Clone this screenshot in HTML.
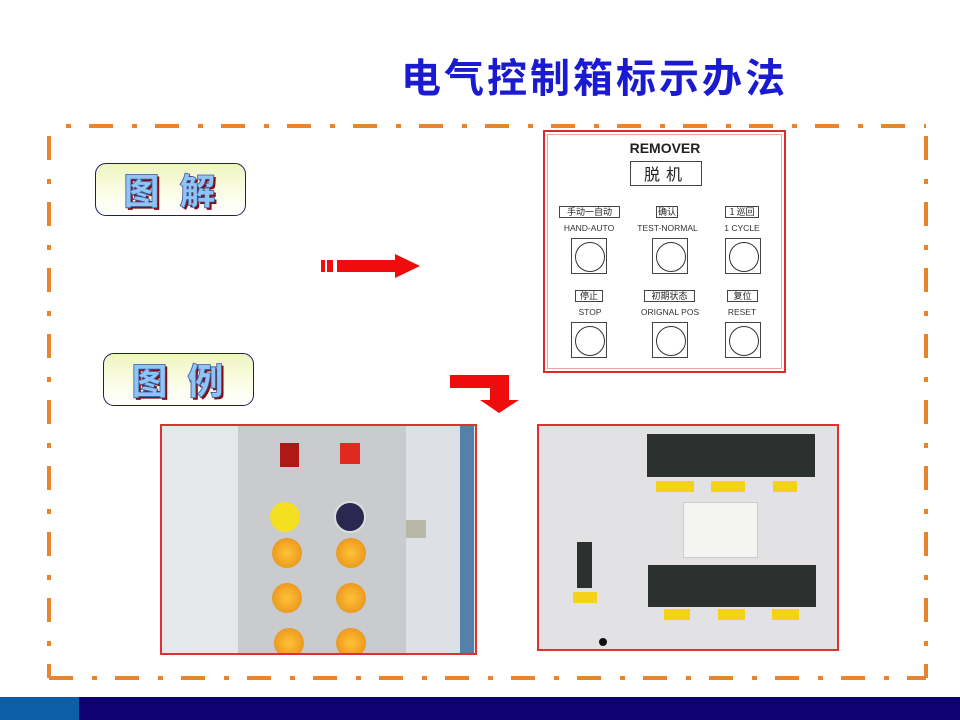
<!DOCTYPE html>
<html><head><meta charset="utf-8"><style>
body{margin:0;width:960px;height:720px;position:relative;overflow:hidden;background:#fff;font-family:"Liberation Sans","Noto Sans CJK SC",sans-serif}
.a{position:absolute;box-sizing:border-box}
.lbl{border:1.5px solid #1c1c6a;border-radius:11px;background:linear-gradient(#eef5c0,#fbfde8 60%,#fff);text-align:center;font-family:"Noto Sans CJK SC",sans-serif;font-weight:900;font-size:36px;line-height:50px;color:#8fc4f4;letter-spacing:20px;text-indent:18px;text-shadow:2px 2px 0 #8a0a12;-webkit-text-stroke:0.8px #3a5a9a}
.bx{border:1px solid #444;font-family:"Noto Sans CJK SC",sans-serif;font-size:9px;line-height:10px;text-align:center;color:#222}
.en{font-size:8.5px;color:#333;text-align:center}
.btn{border:1px solid #444}
.btn:after{content:"";position:absolute;left:3px;top:3px;width:28px;height:28px;border:1px solid #333;border-radius:50%}
.lamp{border-radius:50%;background:radial-gradient(circle,#ffc23a,#f0a020 60%,#c88a40);}
.ylab{background:#f5d21a;font-size:6px;color:#844;text-align:center}
</style></head><body>
<div class="a" style="left:401px;top:50px;font-family:'Noto Sans CJK SC',sans-serif;font-weight:bold;font-size:40px;line-height:50px;color:#1a1ad0;letter-spacing:3px">电气控制箱标示办法</div>

<svg class="a" style="left:0;top:0" width="960" height="720">
<g stroke="#e8842c" stroke-width="4" fill="none" stroke-dasharray="24 19 5 18">
<line x1="49" y1="126" x2="926" y2="126" stroke-dashoffset="-40"/>
<line x1="49" y1="678" x2="926" y2="678"/>
<line x1="49" y1="126" x2="49" y2="678" stroke-dashoffset="-10"/>
<line x1="926" y1="126" x2="926" y2="678" stroke-dashoffset="-10"/>
</g>
<g fill="#ee0c0c">
<rect x="321" y="260" width="4" height="12"/><rect x="327" y="260" width="6" height="12"/>
<rect x="337" y="260" width="59" height="12"/><polygon points="395,254 420,266 395,278"/>
<rect x="450" y="375" width="59" height="13"/><rect x="490" y="387" width="19" height="14"/>
<polygon points="480,400 519,400 499,413"/>
</g>
</svg>

<div class="a lbl" style="left:95px;top:163px;width:151px;height:53px">图解</div>
<div class="a lbl" style="left:103px;top:353px;width:151px;height:53px">图例</div>

<!-- remover panel -->
<div class="a" style="left:543px;top:130px;width:243px;height:243px;border:2px solid #e02a2a;background:#fff"><div class="a" style="left:2px;top:2px;right:2px;bottom:2px;border:1px solid #f0a0a0"></div></div>
<div class="a" style="left:600px;top:140px;width:130px;text-align:center;font-weight:bold;font-size:14px;color:#222">REMOVER</div>
<div class="a bx" style="left:630px;top:161px;width:72px;height:25px;font-size:16px;line-height:23px;letter-spacing:6px">脱机</div>
<div class="a bx" style="left:559px;top:206px;width:61px;height:12px">手动一自动</div>
<div class="a bx" style="left:656px;top:206px;width:22px;height:12px">确认</div>
<div class="a bx" style="left:725px;top:206px;width:34px;height:12px">1 巡回</div>
<div class="a en" style="left:549px;top:223px;width:80px">HAND-AUTO</div>
<div class="a en" style="left:630px;top:223px;width:75px">TEST-NORMAL</div>
<div class="a en" style="left:712px;top:223px;width:60px">1 CYCLE</div>
<div class="a btn" style="left:571px;top:238px;width:36px;height:36px"></div>
<div class="a btn" style="left:652px;top:238px;width:36px;height:36px"></div>
<div class="a btn" style="left:725px;top:238px;width:36px;height:36px"></div>
<div class="a bx" style="left:575px;top:290px;width:28px;height:12px">停止</div>
<div class="a bx" style="left:644px;top:290px;width:51px;height:12px">初期状态</div>
<div class="a bx" style="left:727px;top:290px;width:31px;height:12px">复位</div>
<div class="a en" style="left:560px;top:307px;width:60px">STOP</div>
<div class="a en" style="left:630px;top:307px;width:80px">ORIGNAL POS</div>
<div class="a en" style="left:712px;top:307px;width:60px">RESET</div>
<div class="a btn" style="left:571px;top:322px;width:36px;height:36px"></div>
<div class="a btn" style="left:652px;top:322px;width:36px;height:36px"></div>
<div class="a btn" style="left:725px;top:322px;width:36px;height:36px"></div>

<!-- photo 1 -->
<div class="a" style="left:160px;top:424px;width:317px;height:231px;border:2px solid #e03030;background:#e6e7ea;overflow:hidden">
<div class="a" style="left:76px;top:0;width:168px;height:231px;background:#c9cbce"></div>
<div class="a" style="left:244px;top:0;width:54px;height:231px;background:#dde1e6"></div>
<div class="a" style="left:298px;top:0;width:14px;height:231px;background:#5580a8"></div>
<div class="a" style="left:244px;top:94px;width:20px;height:18px;background:#b8b8a8"></div>
<div class="a" style="left:118px;top:17px;width:19px;height:24px;background:#b01818"></div>
<div class="a" style="left:178px;top:17px;width:20px;height:21px;background:#e02a20"></div>
<div class="a" style="left:108px;top:76px;width:30px;height:30px;border-radius:50%;background:#f4e020"></div>
<div class="a" style="left:172px;top:75px;width:32px;height:32px;border-radius:50%;background:#2a2850;border:2px solid #ddd"></div>
<div class="a lamp" style="left:110px;top:112px;width:30px;height:30px"></div>
<div class="a lamp" style="left:174px;top:112px;width:30px;height:30px"></div>
<div class="a lamp" style="left:110px;top:157px;width:30px;height:30px"></div>
<div class="a lamp" style="left:174px;top:157px;width:30px;height:30px"></div>
<div class="a lamp" style="left:112px;top:202px;width:30px;height:30px"></div>
<div class="a lamp" style="left:174px;top:202px;width:30px;height:30px"></div>
</div>

<!-- photo 2 -->
<div class="a" style="left:537px;top:424px;width:302px;height:227px;border:2px solid #e03030;background:#e2e2e4;overflow:hidden">
<div class="a" style="left:108px;top:8px;width:168px;height:43px;background:#2c302e"></div>
<div class="a ylab" style="left:117px;top:55px;width:38px;height:11px"></div>
<div class="a ylab" style="left:172px;top:55px;width:34px;height:11px"></div>
<div class="a ylab" style="left:234px;top:55px;width:24px;height:11px"></div>
<div class="a" style="left:144px;top:76px;width:75px;height:56px;background:#f4f4f2;border:1px solid #ccc"></div>
<div class="a" style="left:109px;top:139px;width:168px;height:42px;background:#2c302e"></div>
<div class="a ylab" style="left:125px;top:183px;width:26px;height:11px"></div>
<div class="a ylab" style="left:179px;top:183px;width:27px;height:11px"></div>
<div class="a ylab" style="left:233px;top:183px;width:27px;height:11px"></div>
<div class="a" style="left:38px;top:116px;width:15px;height:46px;background:#2c302e"></div>
<div class="a ylab" style="left:34px;top:166px;width:24px;height:11px"></div>
<div class="a" style="left:60px;top:212px;width:8px;height:8px;border-radius:50%;background:#111"></div>
</div>

<div class="a" style="left:0;top:697px;width:79px;height:23px;background:#0c5ea6"></div>
<div class="a" style="left:79px;top:697px;width:881px;height:23px;background:#100070"></div>
</body></html>
